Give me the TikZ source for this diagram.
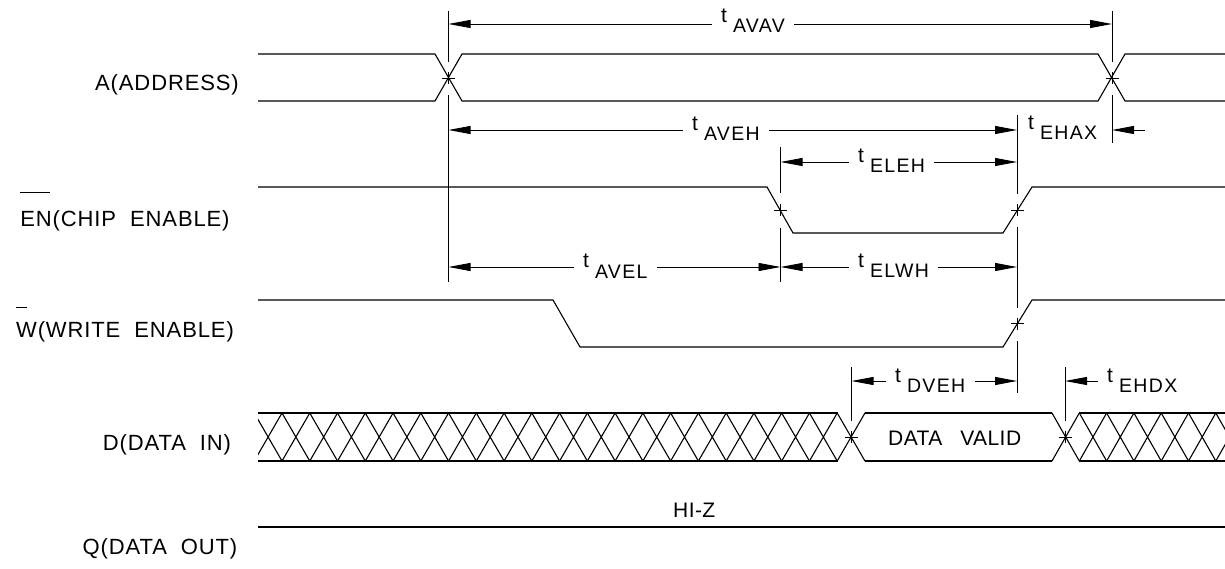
\documentclass[tikz,border=0pt]{standalone}
\usepackage{fontspec}
\setmainfont{Liberation Sans}[LetterSpace=2]
\newfontfamily\labfont{Liberation Sans}[LetterSpace=4]
\newfontfamily\dimfont{Liberation Sans}[LetterSpace=7]
\usetikzlibrary{arrows.meta}
\newcommand\lbl[1]{{\fontsize{21}{21}\selectfont #1}}
\newcommand\sig[1]{{\labfont\fontsize{22}{22}\selectfont #1}}
\newcommand\wsp{\hspace{18pt}}
\newcommand\lsp{\hspace{14pt}}
\newcommand\tsub[1]{{\dimfont\raisebox{10pt}{\fontsize{21}{21}\selectfont t}\hspace{6pt}{\fontsize{19.5}{19.5}\selectfont #1}}}
\tikzset{
  sig/.style={line width=1.1pt},
  ext/.style={line width=0.9pt},
  dim/.style={line width=0.9pt,-{Triangle[length=22pt,width=8pt]}},
  txt/.style={inner sep=0pt,anchor=base west},
  ltxt/.style={inner sep=0pt,anchor=base},
  dtxt/.style={inner xsep=9pt,inner ysep=0pt,anchor=base west},
}
\newcommand\plusmark[1]{\draw[ext] (#1) +(-6.5,0) -- +(6.5,0) +(0,-6) -- +(0,6);}
\begin{document}
\begin{tikzpicture}[x=1pt,y=-1pt]
\useasboundingbox (0,0) rectangle (1225,569);

% ---------- signal labels ----------
\node[ltxt] (lA) at (167,91) {\sig{A(ADDRESS)}};
\node[ltxt] (lEN) at (125,227) {\sig{EN(CHIP\lsp ENABLE)}};
\node[ltxt] (lW) at (125,337) {\sig{W(WRITE\lsp ENABLE)}};
\node[ltxt] (lD) at (167,450) {\sig{D(DATA\lsp IN)}};
\node[ltxt] (lQ) at (160,554) {\sig{Q(DATA\lsp OUT)}};
\coordinate (ovEN) at (0,192);
\coordinate (ovW) at (0,307);
\draw[ext] (lEN.west |- ovEN) -- ++(30,0);
\draw[ext] (lW.west |- ovW) -- ++(11,0);

% ---------- A (address) ----------
\draw[sig] (258,54) -- (435,54) -- (462,101) -- (1098,101) -- (1125,54) -- (1225,54);
\draw[sig] (258,101) -- (435,101) -- (462,54) -- (1098,54) -- (1125,101) -- (1225,101);

% ---------- EN ----------
\draw[sig] (258,187) -- (767,187) -- (793,233) -- (1003,233) -- (1032,187) -- (1225,187);

% ---------- W ----------
\draw[sig] (258,300) -- (553,300) -- (580,347) -- (1003,347) -- (1032,300) -- (1225,300);

% ---------- D (data in) ----------
\begin{scope}
  \clip (258,400) rectangle (1225,470);
  \foreach \i in {-1,...,20} {
    \pgfmathsetmacro\xa{282+27.76*\i}
    \pgfmathsetmacro\xb{\xa+27.76}
    \draw[sig] (\xa,413) -- (\xb,461) (\xa,461) -- (\xb,413);
  }
  \foreach \i in {0,...,6} {
    \pgfmathsetmacro\xa{1052+27.3*\i}
    \pgfmathsetmacro\xb{\xa+27.3}
    \draw[sig] (\xa,413) -- (\xb,461) (\xa,461) -- (\xb,413);
  }
\end{scope}
\draw[sig] (258,413) -- (838,413) (258,461) -- (838,461);
\draw[sig] (865,413) -- (1052,413) (865,461) -- (1052,461);
\draw[sig] (1079,413) -- (1225,413) (1079,461) -- (1225,461);
\node[txt] (dv) at (888,445) {\lbl{DATA\wsp VALID}};

% ---------- Q (data out) ----------
\draw[sig] (258,527) -- (1225,527);
\node[txt] (hiz) at (673,517) {\lbl{HI-Z}};

% ---------- extension lines and crossing marks ----------
\coordinate (cA1) at (448.5,78);
\coordinate (cA2) at (1112,78);
\coordinate (cE1) at (780.5,210);
\coordinate (cE2) at (1017,210);
\coordinate (cW2) at (1017,323.5);
\coordinate (cD1) at (851.5,437);
\coordinate (cD2) at (1065,437);
\plusmark{cA1}\plusmark{cA2}\plusmark{cE1}\plusmark{cE2}\plusmark{cW2}\plusmark{cD1}\plusmark{cD2}
\draw[ext] (448.5,11) -- (448.5,62) (448.5,95) -- (448.5,282);
\draw[ext] (1112,11) -- (1112,62) (1112,95) -- (1112,143);
\draw[ext] (780.5,147) -- (780.5,193) (780.5,228) -- (780.5,282);
\draw[ext] (1017,115) -- (1017,194) (1017,227) -- (1017,308) (1017,341) -- (1017,393);
\draw[ext] (851.5,367) -- (851.5,421);
\draw[ext] (1065,367) -- (1065,421);

% ---------- dimension arrows ----------
\coordinate (avavL) at (448.5,24);
\coordinate (avavR) at (1112,24);
\node[dtxt] (tAVAV) at (712,33) {\tsub{AVAV}};
\draw[dim] (tAVAV.west |- avavL) -- (avavL);
\draw[dim] (tAVAV.east |- avavR) -- (avavR);

\coordinate (avehL) at (448.5,130);
\coordinate (avehR) at (1017,130);
\node[dtxt] (tAVEH) at (683,141) {\tsub{AVEH}};
\draw[dim] (tAVEH.west |- avehL) -- (avehL);
\draw[dim] (tAVEH.east |- avehR) -- (avehR);

\coordinate (ehaxT) at (1145,130);
\coordinate (ehaxE) at (1112,130);
\node[dtxt] (tEHAX) at (1019,140) {\tsub{EHAX}};
\draw[dim] (ehaxT) -- (ehaxE);

\coordinate (elehL) at (780.5,162);
\coordinate (elehR) at (1017,162);
\node[dtxt] (tELEH) at (849,173) {\tsub{ELEH}};
\draw[dim] (tELEH.west |- elehL) -- (elehL);
\draw[dim] (tELEH.east |- elehR) -- (elehR);

\coordinate (avelL) at (448.5,267);
\coordinate (avelR) at (780.5,267);
\node[dtxt] (tAVEL) at (574,278) {\tsub{AVEL}};
\draw[dim] (tAVEL.west |- avelL) -- (avelL);
\draw[dim] (tAVEL.east |- avelR) -- (avelR);

\coordinate (elwhL) at (780.5,267);
\coordinate (elwhR) at (1017,267);
\node[dtxt] (tELWH) at (849,277) {\tsub{ELWH}};
\draw[dim] (tELWH.west |- elwhL) -- (elwhL);
\draw[dim] (tELWH.east |- elwhR) -- (elwhR);

\coordinate (dvehL) at (851.5,381);
\coordinate (dvehR) at (1017,381);
\node[dtxt] (tDVEH) at (886,392) {\tsub{DVEH}};
\draw[dim] (tDVEH.west |- dvehL) -- (dvehL);
\draw[dim] (tDVEH.east |- dvehR) -- (dvehR);

\coordinate (ehdxL) at (1065,381);
\node[dtxt] (tEHDX) at (1098,392) {\tsub{EHDX}};
\draw[dim] (tEHDX.west |- ehdxL) -- (ehdxL);
\end{tikzpicture}
\end{document}
